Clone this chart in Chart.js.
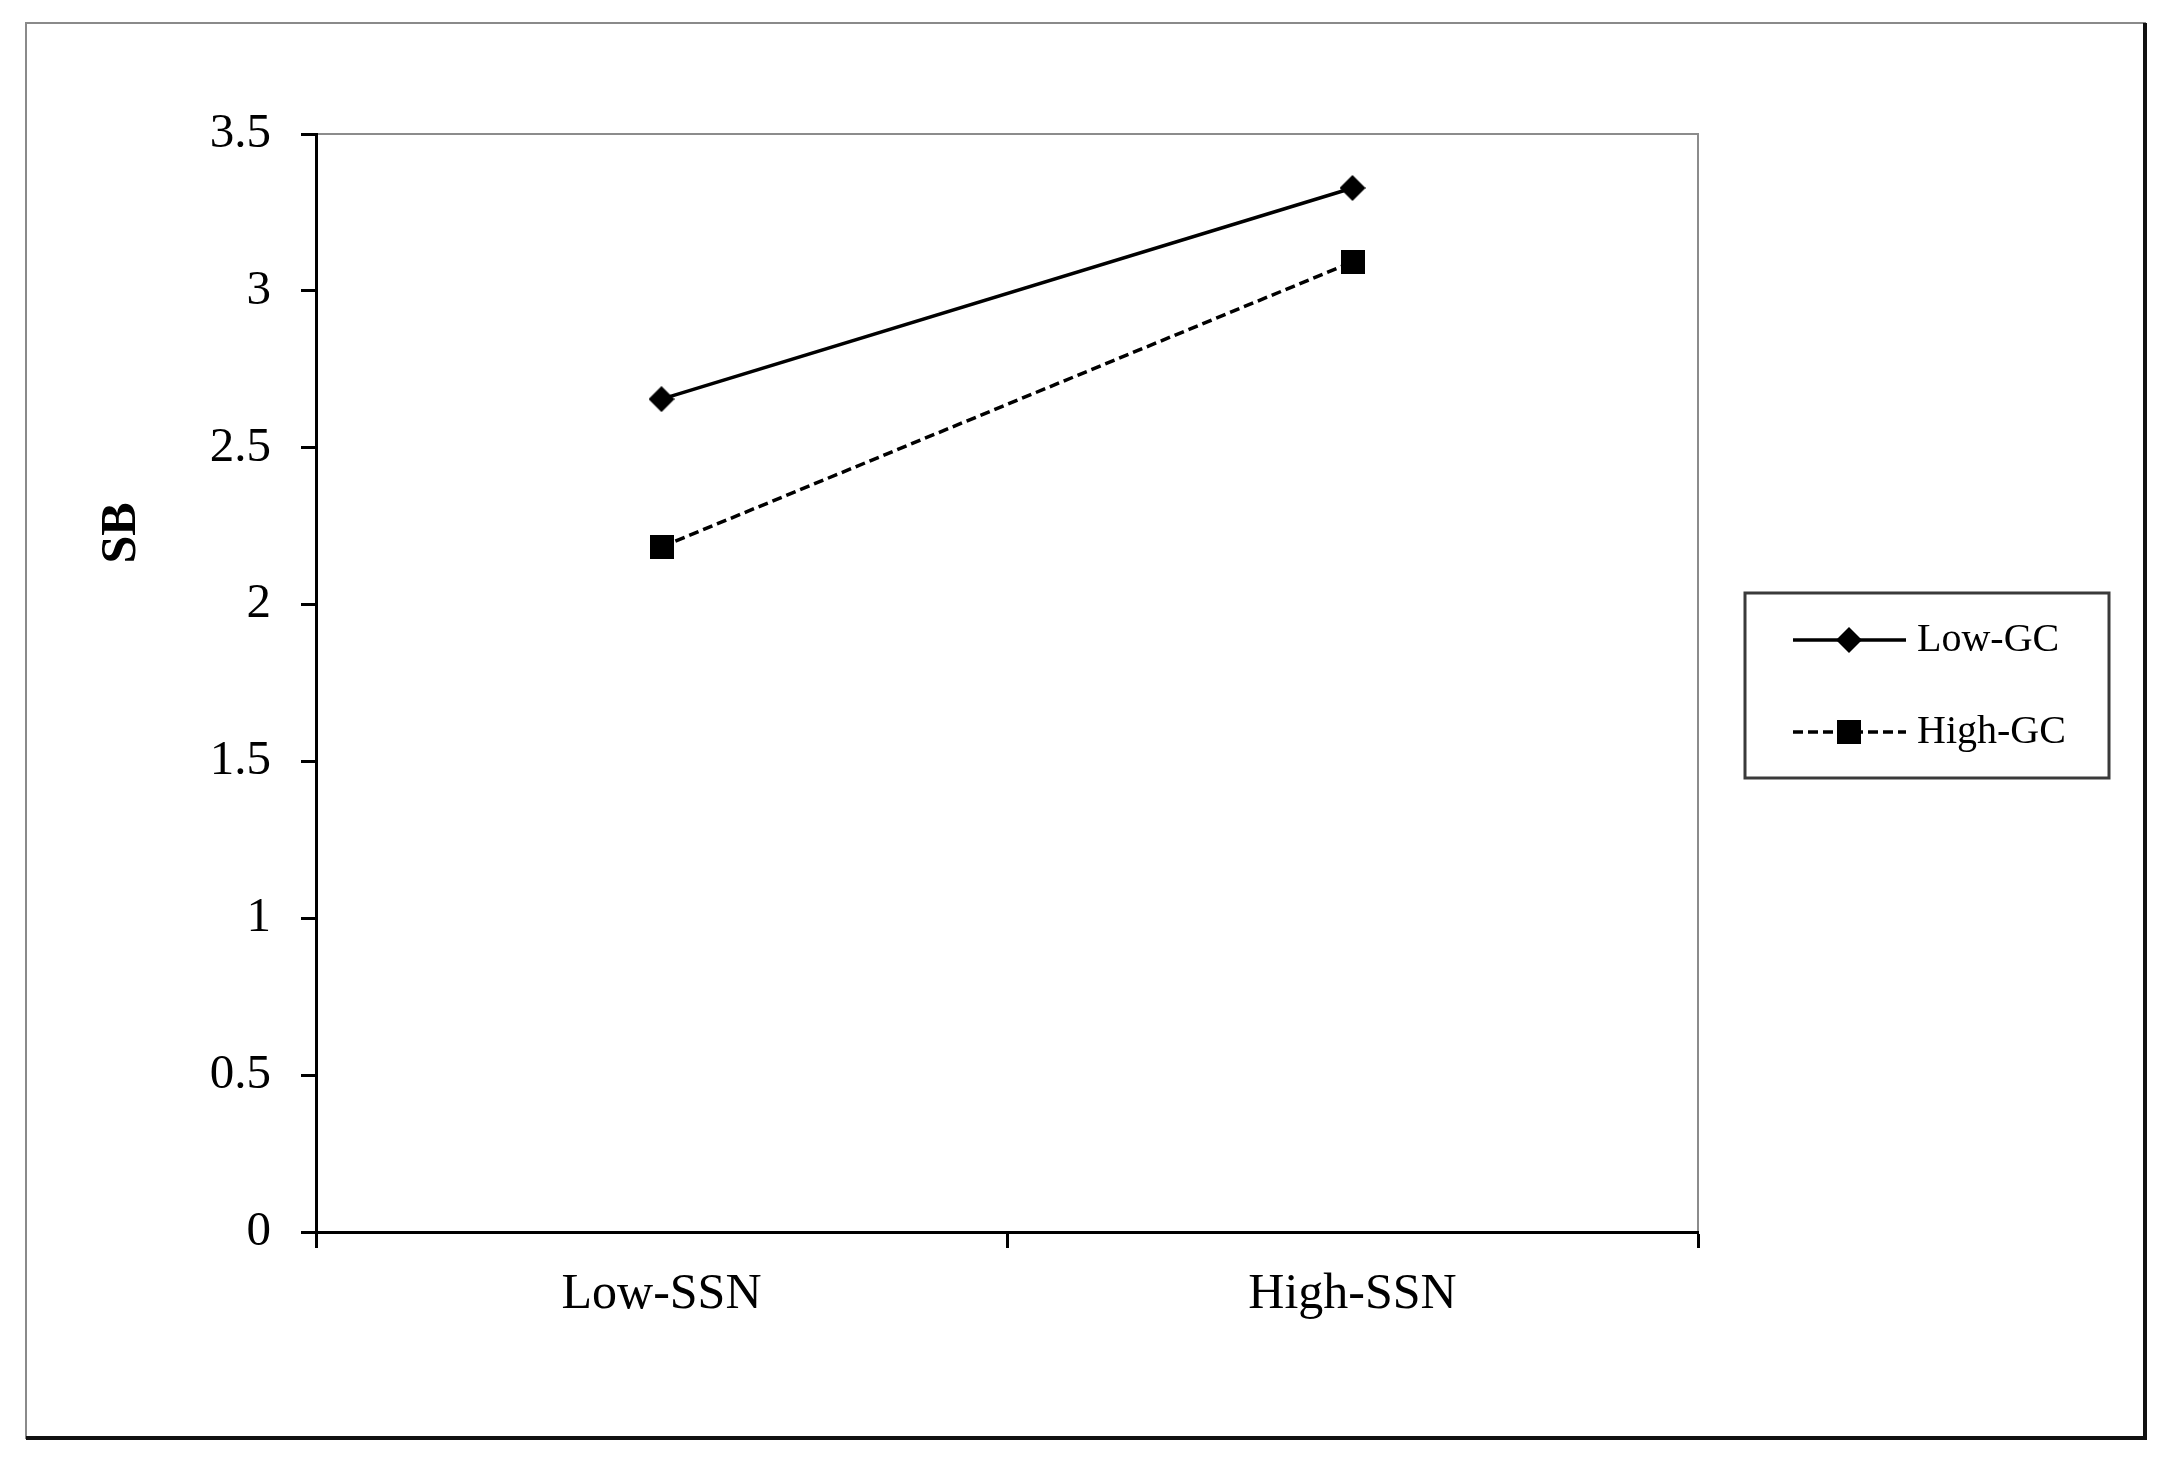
<!DOCTYPE html>
<html>
<head>
<meta charset="utf-8">
<title>SB by SSN and GC</title>
<script src="https://cdn.jsdelivr.net/npm/chart.js@4.4.1/dist/chart.umd.min.js"></script>
<style>
  body { margin: 0; background: #fff; }
  #wrap { width: 2166px; height: 1457px; }
</style>
</head>
<body>
<div id="wrap"><canvas id="sb-line-chart" width="2166" height="1457"></canvas></div>
<script>
// data
var categories = ['Low-SSN', 'High-SSN'];
var low_gc = [2.655, 3.328];
var high_gc = [2.184, 3.092];
var series_names = ['Low-GC', 'High-GC'];
var y_ticks = [0, 0.5, 1, 1.5, 2, 2.5, 3, 3.5];
var y_title = 'SB';

var serif = '"Liberation Serif", "Times New Roman", serif';

// marker images (diamond + square)
function makeDiamond(size) {
    var c = document.createElement('canvas');
    c.width = size; c.height = size;
    var g = c.getContext('2d');
    g.fillStyle = '#000';
    g.beginPath();
    g.moveTo(size / 2, 0);
    g.lineTo(size, size / 2);
    g.lineTo(size / 2, size);
    g.lineTo(0, size / 2);
    g.closePath();
    g.fill();
    return c;
}
function makeSquare(size) {
    var c = document.createElement('canvas');
    c.width = size; c.height = size;
    var g = c.getContext('2d');
    g.fillStyle = '#000';
    g.fillRect(0, 0, size, size);
    return c;
}
var diamond = makeDiamond(26);
var square = makeSquare(24);

var framePlugin = {
    id: 'frame',
    beforeDraw: function(chart) {
        var ctx = chart.ctx, a = chart.chartArea;
        ctx.save();
        ctx.fillStyle = '#fff';
        ctx.fillRect(0, 0, chart.width, chart.height);
        // grey plot border (top / right)
        ctx.strokeStyle = '#8c8c8c';
        ctx.lineWidth = 2;
        ctx.beginPath();
        ctx.moveTo(a.left, a.top);
        ctx.lineTo(a.right, a.top);
        ctx.lineTo(a.right, a.bottom);
        ctx.stroke();
        ctx.restore();
    },
    afterDraw: function(chart) {
        var ctx = chart.ctx;
        ctx.save();
        // y title
        ctx.fillStyle = '#000';
        ctx.font = 'bold 50px ' + serif;
        ctx.textAlign = 'center';
        ctx.textBaseline = 'middle';
        ctx.translate(122, 533);
        ctx.rotate(-Math.PI / 2);
        ctx.fillText(y_title, 0, 0);
        ctx.restore();

        // legend box
        ctx.save();
        ctx.strokeStyle = '#3a3a3a';
        ctx.lineWidth = 3;
        ctx.strokeRect(1745, 593, 364, 185);
        var rows = [640, 732];
        chart.data.datasets.forEach(function(ds, i) {
            var y = rows[i];
            ctx.strokeStyle = '#000';
            ctx.lineWidth = 3.5;
            ctx.setLineDash(ds.borderDash || []);
            ctx.beginPath();
            ctx.moveTo(1793, y);
            ctx.lineTo(1906, y);
            ctx.stroke();
            ctx.setLineDash([]);
            var img = ds.pointStyle;
            ctx.drawImage(img, 1849 - img.width / 2, y - img.height / 2);
            ctx.fillStyle = '#000';
            ctx.font = '40px ' + serif;
            ctx.textAlign = 'left';
            ctx.textBaseline = 'middle';
            ctx.fillText(ds.label, 1917, y);
        });

        // outer frame
        ctx.strokeStyle = '#8a8a8a';
        ctx.lineWidth = 2;
        ctx.strokeRect(26, 23, 2119, 1415);
        ctx.strokeStyle = '#111';
        ctx.lineWidth = 4;
        ctx.beginPath();
        ctx.moveTo(2145, 23);
        ctx.lineTo(2145, 1438);
        ctx.lineTo(26, 1438);
        ctx.stroke();
        ctx.restore();
    }
};

var sb_line_config = {
    type: 'line',
    data: {
        labels: categories,
        datasets: [{
            label: series_names[0],
            data: low_gc,
            borderColor: '#000',
            borderWidth: 3.5,
            pointStyle: diamond,
            pointRadius: 13,
            fill: false,
            tension: 0
        }, {
            label: series_names[1],
            data: high_gc,
            borderColor: '#000',
            borderWidth: 3.5,
            borderDash: [10, 5],
            pointStyle: square,
            pointRadius: 12,
            fill: false,
            tension: 0
        }]
    },
    options: {
        responsive: false,
        animation: false,
        devicePixelRatio: 1,
        layout: { padding: { left: 0, top: 134, right: 468, bottom: 0 } },
        plugins: {
            legend: { display: false },
            tooltip: { enabled: false }
        },
        scales: {
            x: {
                offset: true,
                grid: { offset: true, drawOnChartArea: false, tickLength: 16, tickWidth: 3, tickColor: '#000' },
                border: { color: '#000', width: 3 },
                ticks: { color: '#000', padding: 17, font: { family: serif, size: 50 } },
                afterFit: function(scale) { scale.height = 225; }
            },
            y: {
                min: 0,
                max: 3.5,
                afterBuildTicks: function(scale) {
                    scale.ticks = y_ticks.map(function(v) { return { value: v }; });
                },
                grid: { drawOnChartArea: false, tickLength: 15, tickWidth: 3, tickColor: '#000' },
                border: { color: '#000', width: 3 },
                ticks: {
                    color: '#000',
                    padding: 30,
                    font: { family: serif, size: 49 },
                    callback: function(value) { return String(value); }
                },
                afterFit: function(scale) { scale.width = 316; }
            }
        }
    },
    plugins: [framePlugin]
};

window.onload = function() {
    var sb_ctx = document.getElementById('sb-line-chart').getContext('2d');
    window.sbLine = new Chart(sb_ctx, sb_line_config);
};
</script>
</body>
</html>
